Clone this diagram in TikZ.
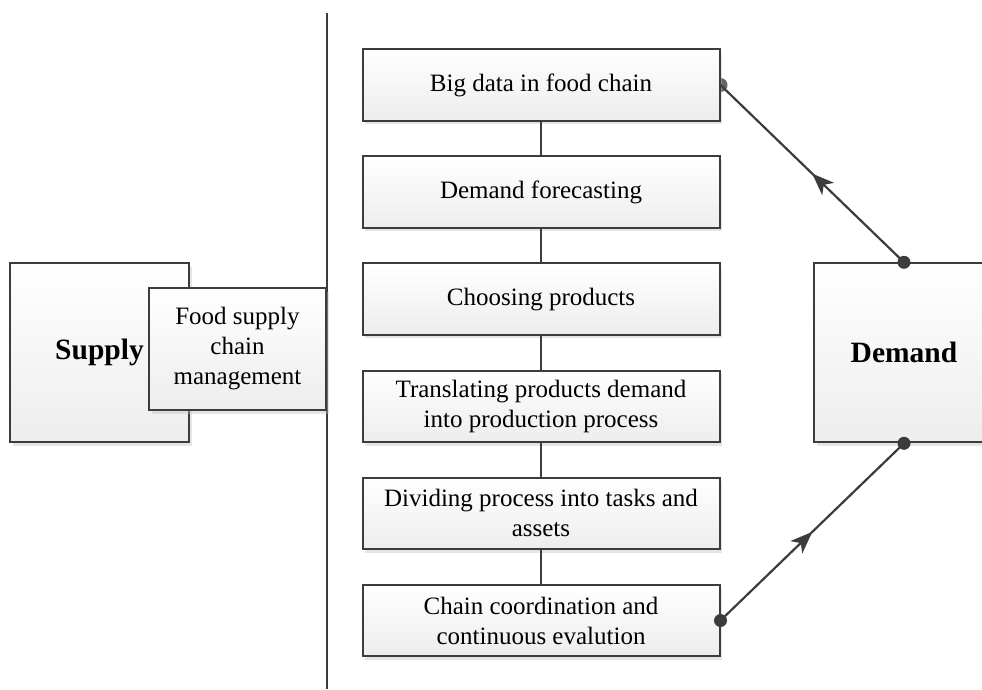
\documentclass[tikz,border=0pt]{standalone}
\usepackage{fontspec}
\setmainfont{Liberation Serif}
\usetikzlibrary{shadows,arrows.meta,decorations.markings}
\pgfdeclarelayer{background}
\pgfsetlayers{background,main}
\definecolor{edge}{HTML}{3C3C3C}
\definecolor{shadebottom}{HTML}{EDEDED}
\begin{document}
\begin{tikzpicture}[x=1pt,y=-1pt,
  box/.style={draw=edge, line width=2pt, top color=white, bottom color=shadebottom,
    drop shadow={shadow xshift=2.5pt, shadow yshift=-3.5pt, fill=black!25, opacity=0.4},
    inner sep=2pt, align=center, text=black, font=\fontsize{25}{30}\selectfont},
  stepbox/.style={box, minimum width=357pt, minimum height=71.5pt},
  bigbox/.style={box, minimum width=179pt, minimum height=179pt,
    font=\fontsize{29.5}{34}\selectfont\bfseries},
  link/.style={draw=edge, line width=2.2pt},
  midarrow/.style={postaction={decorate}, decoration={markings,
    mark=at position 0.5 with {\arrow[edge]{Stealth[length=22pt,width=17pt,inset=6pt]}}}},
  dot/.style={fill=edge}
]
\useasboundingbox (0,0) rectangle (982,689);

% separator between supply and demand sides
\coordinate (sepTop) at (327,13);
\coordinate (sepBot) at (327,689);
\draw[link, line width=2.4pt] (sepTop) -- (sepBot);

% supply side
\node[bigbox] (supply) at (99.5,352.8) {Supply};
\node[box, minimum width=177pt, minimum height=122pt] (fscm) at (237.5,349)
  {Food supply\\chain\\management};

% chain of steps
\node[stepbox] (s1) at (541,85)    {Big data in food chain};
\node[stepbox] (s2) at (541,192.1) {Demand forecasting};
\node[stepbox] (s3) at (541,299.2) {Choosing products};
\node[stepbox] (s4) at (541,406.3) {Translating products demand\\into production process};
\node[stepbox] (s5) at (541,513.4) {Dividing process into tasks and\\assets};
\node[stepbox] (s6) at (541,620.5) {Chain coordination and\\continuous evalution};

\draw[link] (s1.south) -- (s2.north);
\draw[link] (s2.south) -- (s3.north);
\draw[link] (s3.south) -- (s4.north);
\draw[link] (s4.south) -- (s5.north);
\draw[link] (s5.south) -- (s6.north);

% demand side
\node[bigbox, minimum width=180pt] (demand) at (904,352.8) {Demand};

% feedback connectors
\begin{pgfonlayer}{background}
  \fill[black!60] (s1.east) circle (7pt);
\end{pgfonlayer}
\draw[link, midarrow] (demand.north) -- (s1.east);
\draw[link, midarrow] (s6.east) -- (demand.south);
\fill[dot] (demand.north) circle (6.5pt);
\fill[dot] (demand.south) circle (6.5pt);
\fill[dot] (s6.east) circle (6.5pt);
\end{tikzpicture}
\end{document}
